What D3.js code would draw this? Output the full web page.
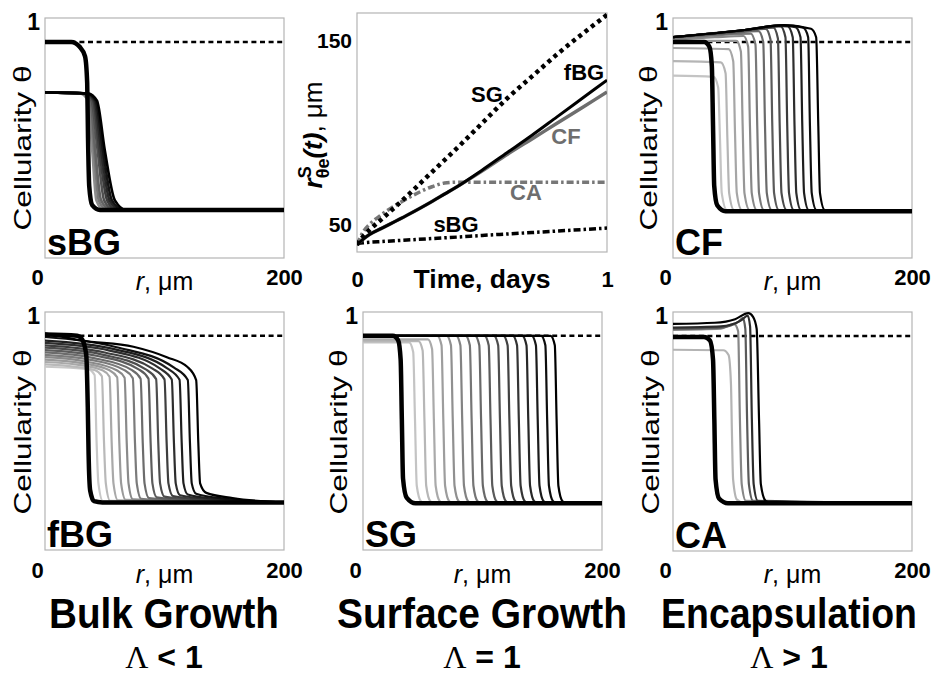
<!DOCTYPE html>
<html>
<head>
<meta charset="utf-8">
<script src="https://cdn.jsdelivr.net/npm/d3@7"></script>
<style>
  body { margin: 0; background: #fff; }
</style>
</head>
<body>
<div id="chart"></div>
<script>
// ---------- data: cellularity profiles, [r (um), theta] ----------
const thetaTarget = 0.9;
const rTicks = [0, 200];
const thetaTicks = [1];

const sbgInitial = [[0,.9],[22,.9],[29,.88],[33.5,.84],[35.3,.73],[36,.5],[37,.3],[39.5,.22],[46,.2],[200,.2]];
const sbgProfiles = [
  [[0,.69],[30,.685],[36,.655],[39.5,.45],[43,.24],[49,.2],[200,.2]],
  [[0,.69],[31,.685],[37,.655],[41,.45],[45,.24],[52,.2],[200,.2]],
  [[0,.69],[32,.685],[38,.655],[42,.45],[47,.24],[55,.2],[200,.2]],
  [[0,.69],[33,.685],[39,.655],[44,.45],[49.5,.24],[57.5,.2],[200,.2]],
  [[0,.69],[34,.685],[40.5,.655],[45.5,.45],[52,.24],[60,.2],[200,.2]],
  [[0,.69],[35,.685],[41.5,.655],[47,.45],[54,.24],[63,.2],[200,.2]],
  [[0,.69],[35.5,.685],[42.5,.655],[48.5,.45],[56,.24],[65.5,.2],[200,.2]],
  [[0,.69],[36,.685],[43.5,.655],[50,.45],[58.5,.24],[68,.2],[200,.2]]
];

const cfInitial = [[0,.9],[26,.9],[30.5,.88],[32.5,.8],[33.5,.55],[34.5,.3],[37,.22],[44,.195],[200,.195]];
const cfProfiles = [
  [[0,.76],[34,.755],[37.8,.71],[39.3,.5],[40.8,.27],[45,.2],[200,.195]],
  [[0,.82],[40,.815],[44,.77],[45.5,.5],[47,.27],[51,.2],[200,.195]],
  [[0,.875],[46.5,.87],[50.4,.82],[51.9,.52],[53.4,.27],[57.5,.2],[200,.195]],
  [[0,.9],[30,.905],[53,.905],[56.8,.86],[58.3,.55],[59.8,.27],[64,.2],[200,.195]],
  [[0,.91],[35,.92],[59,.925],[62.9,.88],[64.4,.55],[65.9,.27],[70,.2],[200,.195]],
  [[0,.915],[40,.93],[65,.935],[69,.89],[70.5,.55],[72,.27],[76,.2],[200,.195]],
  [[0,.92],[45,.935],[71.5,.945],[75.5,.9],[77,.55],[78.5,.27],[82.5,.2],[200,.195]],
  [[0,.92],[50,.94],[77.5,.955],[81.6,.91],[83.1,.55],[84.6,.27],[88.5,.2],[200,.195]],
  [[0,.92],[55,.945],[84,.96],[87.8,.915],[89.3,.55],[90.8,.27],[95,.2],[200,.195]],
  [[0,.92],[60,.95],[90,.965],[94.1,.92],[95.6,.55],[97.1,.27],[101,.2],[200,.195]],
  [[0,.92],[60,.95],[88,.967],[96,.965],[100.2,.92],[101.7,.55],[103.2,.27],[107,.2],[200,.195]],
  [[0,.92],[60,.95],[90,.968],[102.5,.962],[106.7,.92],[108.2,.55],[109.7,.27],[113.5,.2],[200,.195]],
  [[0,.92],[60,.95],[92,.97],[109,.96],[113.1,.92],[114.6,.55],[116.1,.27],[120,.2],[200,.195]],
  [[0,.92],[60,.95],[93,.97],[115.5,.955],[119.8,.92],[121.6,.55],[123,.27],[127,.2],[200,.195]]
];

const fbgInitial = [[0,.905],[27,.9],[31,.885],[34.5,.82],[35.8,.6],[36.5,.4],[37.8,.25],[41,.205],[48,.2],[200,.2]];
const fbgProfiles = [
  [[0,.77],[36,.76],[41.5,.735],[43.2,.45],[44.7,.28],[48.5,.205],[200,.2]],
  [[0,.78],[25,.77],[42,.755],[47.6,.73],[49.4,.45],[50.9,.28],[54.5,.207],[200,.2]],
  [[0,.79],[28,.778],[48,.755],[54,.728],[55.8,.45],[57.3,.28],[61,.209],[200,.2]],
  [[0,.8],[31,.785],[54,.755],[60.4,.726],[62.2,.45],[63.7,.28],[67.5,.211],[200,.2]],
  [[0,.81],[34,.792],[60,.755],[66.6,.724],[68.4,.45],[69.9,.28],[73.5,.213],[200,.2]],
  [[0,.82],[37,.8],[66,.757],[73.5,.722],[75.3,.45],[76.8,.28],[80.5,.215],[110,.206],[200,.2]],
  [[0,.83],[40,.807],[72,.758],[80,.72],[81.8,.45],[83.3,.28],[87,.218],[120,.207],[200,.2]],
  [[0,.84],[44,.815],[78,.76],[86.6,.72],[88.4,.45],[89.9,.28],[93.5,.221],[125,.208],[200,.2]],
  [[0,.85],[47,.822],[84,.76],[93,.718],[94.8,.45],[96.3,.28],[100,.224],[130,.21],[200,.2]],
  [[0,.86],[50,.83],[90,.762],[100,.717],[101.8,.45],[103.3,.28],[107,.227],[135,.211],[200,.2]],
  [[0,.87],[54,.838],[96,.763],[106.1,.716],[107.9,.45],[109.4,.28],[113,.23],[140,.213],[200,.2]],
  [[0,.88],[57,.845],[102,.764],[112.6,.715],[114.4,.45],[115.9,.28],[119.5,.233],[145,.214],[200,.2]],
  [[0,.895],[60,.852],[108,.766],[119.5,.714],[121.3,.45],[122.8,.28],[126.5,.236],[150,.216],[200,.2]],
  [[0,.91],[31,.88],[74,.854],[102,.81],[119,.77],[126.5,.714],[128.3,.45],[129.8,.28],[135,.24],[157,.218],[200,.2]]
];

const sgInitial = [[0,.9],[25,.9],[29.5,.88],[31.5,.8],[32.5,.55],[33.5,.3],[36.5,.22],[44,.196],[200,.196]];
const sgProfiles = [
  [[0,.872],[38.5,.872],[42,.832],[43.5,.55],[45,.27],[48.5,.205],[52.5,.196],[200,.196]],
  [[0,.878],[46.4,.878],[49.9,.838],[51.4,.55],[52.9,.27],[56.4,.205],[60.4,.196],[200,.196]],
  [[0,.885],[54.3,.885],[57.8,.845],[59.3,.55],[60.8,.27],[64.3,.205],[68.3,.196],[200,.196]],
  [[0,.9],[62.2,.9],[65.7,.86],[67.2,.55],[68.7,.27],[72.2,.205],[76.2,.196],[200,.196]],
  [[0,.9],[70.1,.9],[73.6,.86],[75.1,.55],[76.6,.27],[80.1,.205],[84.1,.196],[200,.196]],
  [[0,.9],[78,.9],[81.5,.86],[83,.55],[84.5,.27],[88,.205],[92,.196],[200,.196]],
  [[0,.9],[85.9,.9],[89.4,.86],[90.9,.55],[92.4,.27],[95.9,.205],[99.9,.196],[200,.196]],
  [[0,.9],[93.8,.9],[97.3,.86],[98.8,.55],[100.3,.27],[103.8,.205],[107.8,.196],[200,.196]],
  [[0,.9],[101.7,.9],[105.2,.86],[106.7,.55],[108.2,.27],[111.7,.205],[115.7,.196],[200,.196]],
  [[0,.9],[109.6,.9],[113.1,.86],[114.6,.55],[116.1,.27],[119.6,.205],[123.6,.196],[200,.196]],
  [[0,.9],[117.5,.9],[121,.86],[122.5,.55],[124,.27],[127.5,.205],[131.5,.196],[200,.196]],
  [[0,.9],[125.4,.9],[128.9,.86],[130.4,.55],[131.9,.27],[135.4,.205],[139.4,.196],[200,.196]],
  [[0,.9],[133.3,.9],[136.8,.86],[138.3,.55],[139.8,.27],[143.3,.205],[147.3,.196],[200,.196]],
  [[0,.9],[141.2,.9],[144.7,.86],[146.2,.55],[147.7,.27],[151.2,.205],[155.2,.196],[200,.196]],
  [[0,.9],[149.1,.9],[152.6,.86],[154.1,.55],[155.6,.27],[159.1,.205],[163.1,.196],[200,.196]],
  [[0,.9],[157,.9],[160.5,.86],[162,.55],[163.5,.27],[167,.205],[171,.196],[200,.196]]
];

const caInitial = [[0,.895],[26,.895],[31,.88],[33.5,.8],[34.6,.55],[35.6,.3],[38.5,.22],[46,.2],[200,.2]];
const caProfiles = [
  [[0,.842],[42,.84],[46.5,.82],[48.5,.7],[49.3,.5],[50.3,.3],[53.5,.215],[60,.2],[200,.2]],
  [[0,.925],[40,.93],[51,.95],[54.5,.92],[56,.55],[57.5,.28],[61,.21],[200,.2]],
  [[0,.93],[40,.935],[55,.96],[58.5,.975],[60.5,.93],[62,.55],[63.5,.28],[67,.21],[200,.2]],
  [[0,.935],[40,.94],[57,.965],[62.5,.985],[64.5,.94],[66,.55],[67.5,.28],[71,.21],[200,.2]],
  [[0,.95],[35,.955],[52,.97],[63,.995],[67,.98],[70,.93],[72,.55],[73.5,.28],[77.5,.21],[83,.2],[200,.2]]
];

// ---------- data: front position vs time ----------
const days       = [0, 0.025, 0.05, 0.1, 0.2, 0.3, 0.35, 0.4, 0.5, 0.6, 0.7, 0.8, 0.9, 1];
const sgRadius   = [39, 43.5, 47, 53, 65.5, 78.5, 85, 91.5, 105, 118.5, 130.5, 142.5, 153.5, 164];
const fbgRadius  = [39, 42, 44.5, 48, 55, 62.5, 66.5, 70.5, 79.5, 89, 98.5, 108.5, 118.5, 128.5];
const cfRadius   = [39, 42, 44.5, 48, 55, 62.5, 66.5, 70.5, 79, 88, 96.5, 105, 113.5, 122];
const caRadius   = [39, 46, 50, 55.5, 64, 70.5, 72.5, 73, 73, 73, 73, 73, 73, 73];
const sbgRadius  = [39.5, 40, 40.3, 40.7, 41.5, 42.3, 42.7, 43.1, 44, 44.8, 45.6, 46.4, 47.2, 48];
const timeTicks = [0, 1];
const radiusTicks = [50, 150];

const groupTitles = ["Bulk Growth", "Surface Growth", "Encapsulation"];
const lambdaSigns = ["<", "=", ">"];

// ---------- drawing ----------
const FONT = '"Liberation Sans", Arial, Helvetica, sans-serif';
const svg = d3.select("#chart").append("svg")
  .attr("width", 934)
  .attr("height", 675)
  .style("background", "#fff");

function styleTicks(sel, size) {
  sel.select(".domain").remove();
  sel.selectAll("text")
    .style("font-family", FONT)
    .style("font-weight", "bold")
    .style("font-size", size + "px")
    .attr("fill", "#000");
}

function profilePanel(p) {
  const x = d3.scaleLinear().domain([0, 200]).range([p.x0, p.x1]);
  const y = d3.scaleLinear().domain([0, 1]).range([p.y1, p.y0]);
  const g = svg.append("g");

  svg.append("clipPath").attr("id", "clip-" + p.id)
    .append("rect")
    .attr("x", p.x0).attr("y", p.y0)
    .attr("width", p.x1 - p.x0).attr("height", p.y1 - p.y0);

  g.append("rect")
    .attr("x", p.x0).attr("y", p.y0)
    .attr("width", p.x1 - p.x0).attr("height", p.y1 - p.y0)
    .attr("fill", "#fff")
    .attr("stroke", "#b4b4b4")
    .attr("stroke-width", 1.2);

  const plot = g.append("g").attr("clip-path", `url(#clip-${p.id})`);

  // steady state level
  plot.append("line")
    .attr("x1", x(0)).attr("x2", x(200))
    .attr("y1", y(thetaTarget)).attr("y2", y(thetaTarget))
    .attr("stroke", "#000")
    .attr("stroke-width", 2.5)
    .attr("stroke-dasharray", "5,3.6");

  const line = d3.line()
    .x(d => x(d[0]))
    .y(d => y(d[1]))
    .curve(d3.curveMonotoneX);

  const shade = d3.scaleLinear()
    .domain([0, p.profiles.length - 1])
    .range([p.light, "#000"]);

  plot.selectAll("path.profile")
    .data(p.profiles)
    .join("path")
    .attr("class", "profile")
    .attr("fill", "none")
    .attr("stroke", (d, i) => shade(i))
    .attr("stroke-width", p.width)
    .attr("d", line);

  plot.append("path")
    .datum(p.initial)
    .attr("fill", "none")
    .attr("stroke", "#000")
    .attr("stroke-width", 4.5)
    .attr("d", line);

  // axes (labels only)
  const xAxis = g.append("g")
    .attr("transform", `translate(0,${p.y1})`)
    .call(d3.axisBottom(x).tickValues(rTicks).tickFormat(d3.format("d")).tickSize(0).tickPadding(0));
  styleTicks(xAxis, 22);
  xAxis.selectAll("text")
    .attr("y", p.tickBase - p.y1)
    .attr("dy", null)
    .attr("dx", d => d === 0 ? -8 : 0);

  const yAxis = g.append("g")
    .attr("transform", `translate(${p.x0},0)`)
    .call(d3.axisLeft(y).tickValues(thetaTicks).tickFormat(d3.format("d")).tickSize(0).tickPadding(5));
  styleTicks(yAxis, 23);
  yAxis.selectAll("text").attr("dy", "0.5em");

  // r, um
  const xt = g.append("text")
    .attr("x", (p.x0 + p.x1) / 2)
    .attr("y", p.titleBase)
    .attr("text-anchor", "middle")
    .style("font-family", FONT)
    .style("font-size", "25px");
  xt.append("tspan").text("r").style("font-style", "italic");
  xt.append("tspan").text(", μm");

  // Cellularity theta
  g.append("text")
    .attr("transform", `translate(${p.labelX},${p.labelY}) rotate(-90)`)
    .attr("text-anchor", "middle")
    .attr("dominant-baseline", "central")
    .attr("textLength", 165)
    .attr("lengthAdjust", "spacingAndGlyphs")
    .style("font-family", FONT)
    .style("font-size", "24px")
    .text("Cellularity θ");

  // panel tag
  g.append("text")
    .attr("x", p.x0 + 2)
    .attr("y", p.y1 - 3)
    .style("font-family", FONT)
    .style("font-weight", "bold")
    .style("font-size", "36px")
    .text(p.id);
}

const panels = [
  { id: "sBG", x0: 45, x1: 284, y0: 18, y1: 258, initial: sbgInitial, profiles: sbgProfiles,
    light: "#8c8c8c", width: 2.6, labelX: 22, labelY: 148, tickBase: 285, titleBase: 290 },
  { id: "CF", x0: 673, x1: 912, y0: 18, y1: 258, initial: cfInitial, profiles: cfProfiles,
    light: "#c4c4c4", width: 2.2, labelX: 648, labelY: 148, tickBase: 285, titleBase: 290 },
  { id: "fBG", x0: 45, x1: 284, y0: 312, y1: 550, initial: fbgInitial, profiles: fbgProfiles,
    light: "#c8c8c8", width: 2.2, labelX: 22, labelY: 432, tickBase: 578, titleBase: 583 },
  { id: "SG", x0: 363, x1: 602, y0: 312, y1: 550, initial: sgInitial, profiles: sgProfiles,
    light: "#c4c4c4", width: 2.2, labelX: 338, labelY: 432, tickBase: 578, titleBase: 583 },
  { id: "CA", x0: 673, x1: 912, y0: 312, y1: 551, initial: caInitial, profiles: caProfiles,
    light: "#b4b4b4", width: 2.2, labelX: 650, labelY: 432, tickBase: 578, titleBase: 583 }
];
panels.forEach(profilePanel);

// ---------- front radius vs time panel ----------
(function frontPanel() {
  const x0 = 357, x1 = 607, y0 = 13, y1 = 252;
  const x = d3.scaleLinear().domain([0, 1]).range([x0, x1]);
  const y = d3.scaleLinear().domain([35, 165]).range([y1, y0]);
  const g = svg.append("g");

  g.append("rect")
    .attr("x", x0).attr("y", y0)
    .attr("width", x1 - x0).attr("height", y1 - y0)
    .attr("fill", "#fff")
    .attr("stroke", "#b4b4b4")
    .attr("stroke-width", 1.2);

  svg.append("clipPath").attr("id", "clip-front")
    .append("rect")
    .attr("x", x0).attr("y", y0)
    .attr("width", x1 - x0).attr("height", y1 - y0);
  const plot = g.append("g").attr("clip-path", "url(#clip-front)");

  const series = [
    { name: "CA",  values: caRadius,  color: "#777", width: 3.5, dash: "7,3,2.5,3" },
    { name: "sBG", values: sbgRadius, color: "#000", width: 3.5, dash: "7,3,2.5,3" },
    { name: "CF",  values: cfRadius,  color: "#6e6e6e", width: 3.5, dash: null },
    { name: "fBG", values: fbgRadius, color: "#000", width: 3, dash: null },
    { name: "SG",  values: sgRadius,  color: "#000", width: 4.5, dash: "4,4" }
  ];

  const line = d3.line()
    .x((d, i) => x(days[i]))
    .y(d => y(d))
    .curve(d3.curveMonotoneX);

  plot.selectAll("path.front")
    .data(series)
    .join("path")
    .attr("class", "front")
    .attr("fill", "none")
    .attr("stroke", d => d.color)
    .attr("stroke-width", d => d.width)
    .attr("stroke-dasharray", d => d.dash)
    .attr("d", d => line(d.values));

  // curve labels
  const labelPos = {
    SG:  { x: 487, y: 102, c: "#000" },
    fBG: { x: 584, y: 80,  c: "#000" },
    CF:  { x: 566, y: 144, c: "#6e6e6e" },
    CA:  { x: 526, y: 200, c: "#6e6e6e" },
    sBG: { x: 456, y: 232, c: "#000" }
  };
  series.forEach(s => {
    const lp = labelPos[s.name];
    g.append("text")
      .attr("x", lp.x).attr("y", lp.y)
      .attr("text-anchor", "middle")
      .attr("fill", lp.c)
      .style("font-family", FONT)
      .style("font-weight", "bold")
      .style("font-size", "22px")
      .text(s.name);
  });

  const xAxis = g.append("g")
    .attr("transform", `translate(0,${y1})`)
    .call(d3.axisBottom(x).tickValues(timeTicks).tickFormat(d3.format("d")).tickSize(0).tickPadding(0));
  styleTicks(xAxis, 22);
  xAxis.selectAll("text").attr("y", 287 - y1).attr("dy", null);

  const yAxis = g.append("g")
    .attr("transform", `translate(${x0},0)`)
    .call(d3.axisLeft(y).tickValues(radiusTicks).tickFormat(d3.format("d")).tickSize(0).tickPadding(5));
  styleTicks(yAxis, 21);

  g.append("text")
    .attr("x", (x0 + x1) / 2)
    .attr("y", 288)
    .attr("text-anchor", "middle")
    .attr("textLength", 137)
    .attr("lengthAdjust", "spacingAndGlyphs")
    .style("font-family", FONT)
    .style("font-weight", "bold")
    .style("font-size", "25px")
    .text("Time, days");

  const yl = g.append("text")
    .attr("transform", "translate(322,135) rotate(-90)")
    .attr("text-anchor", "middle")
    .style("font-family", FONT)
    .style("font-size", "26px");
  yl.append("tspan").text("r").style("font-weight", "bold").style("font-style", "italic");
  yl.append("tspan").text("S").attr("dy", -11).style("font-size", "18px").style("font-weight", "bold");
  yl.append("tspan").text("θe").attr("dx", -12).attr("dy", 18).style("font-size", "18px").style("font-weight", "bold");
  yl.append("tspan").text("(t)").attr("dy", -7).style("font-weight", "bold").style("font-style", "italic");
  yl.append("tspan").text(", μm");
})();

// ---------- column titles ----------
const titleX = [164, 482, 789];
const titleWidth = [230, 290, 256];
groupTitles.forEach((t, i) => {
  const title = svg.append("text")
    .attr("text-anchor", "middle")
    .style("font-family", FONT)
    .style("font-weight", "bold")
    .style("font-size", "42px")
    .text(t);
  // squeeze horizontally like the narrow lettering of the original
  const w = title.node().getComputedTextLength();
  const k = Math.min(1, titleWidth[i] / w);
  title.attr("transform", `translate(${titleX[i]},628) scale(${k},1)`);

  const lt = svg.append("text")
    .attr("x", titleX[i]).attr("y", 668)
    .attr("text-anchor", "middle")
    .style("font-size", "32px");
  lt.append("tspan").text("Λ").style("font-family", '"Liberation Serif", "Times New Roman", serif');
  lt.append("tspan").text(" " + lambdaSigns[i] + " 1")
    .style("font-family", FONT).style("font-weight", "bold");
});
</script>
</body>
</html>
